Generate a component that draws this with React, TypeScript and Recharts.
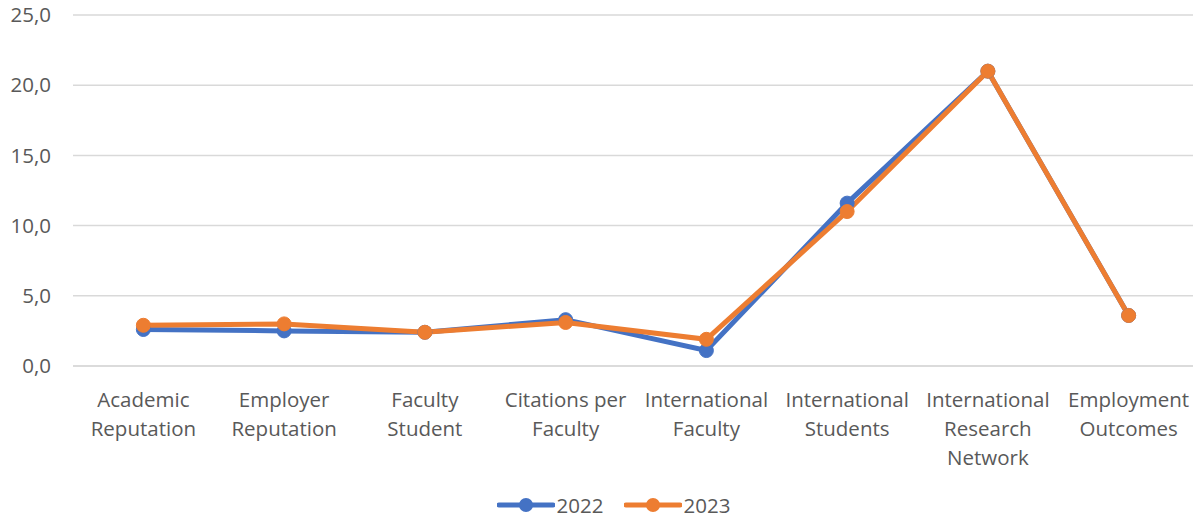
import { LineChart, Line, XAxis, YAxis, CartesianGrid, Legend } from 'recharts'

// category labels, line breaks as in the source chart
const categories = [
  'Academic\nReputation',
  'Employer\nReputation',
  'Faculty\nStudent',
  'Citations per\nFaculty',
  'International\nFaculty',
  'International\nStudents',
  'International\nResearch\nNetwork',
  'Employment\nOutcomes',
]

const values2022 = [2.6, 2.5, 2.4, 3.3, 1.1, 11.6, 21.0, 3.6]
const values2023 = [2.9, 3.0, 2.4, 3.1, 1.9, 11.0, 21.0, 3.6]

const yTicks = [0, 5, 10, 15, 20, 25]

const series = [
  { key: 'y2022', name: '2022', color: '#4472C4', values: values2022 },
  { key: 'y2023', name: '2023', color: '#ED7D31', values: values2023 },
]

const data = categories.map((name, i) => ({
  name,
  y2022: values2022[i],
  y2023: values2023[i],
}))

const FONT = '"Open Sans", sans-serif'
const TEXT = '#595959'

const fmt = (v: number) => v.toFixed(1).replace('.', ',')

function CategoryTick({ x, y, payload }: any) {
  const lines = String(payload.value).split('\n')
  return (
    <text x={x} y={y + 39} textAnchor="middle" fill={TEXT} fontSize={20.5} fontFamily={FONT}>
      {lines.map((l, i) => (
        <tspan key={i} x={x} dy={i === 0 ? 0 : 29}>
          {l}
        </tspan>
      ))}
    </text>
  )
}

function LegendContent() {
  return (
    <div style={{ display: 'flex', justifyContent: 'center', gap: 20, paddingTop: 30, marginLeft: 28 }}>
      {series.map((s) => (
        <div key={s.key} style={{ display: 'flex', alignItems: 'center', height: 28 }}>
          <svg width={58} height={20}>
            <line x1={2} y1={10} x2={56} y2={10} stroke={s.color} strokeWidth={5} strokeLinecap="round" />
            <circle cx={29} cy={10} r={7} fill={s.color} />
          </svg>
          <span style={{ color: TEXT, fontSize: 20.5, lineHeight: '28px', fontFamily: FONT, marginLeft: 2 }}>
            {s.name}
          </span>
        </div>
      ))}
    </div>
  )
}

export default function App() {
  return (
    <div style={{ width: 1193, height: 521, overflow: 'hidden', background: '#fff' }}>
      <style>{'body{margin:0}'}</style>
      <LineChart width={1199} height={521} data={data} margin={{ top: 15, right: 0, bottom: 0, left: 0 }}>
        <CartesianGrid vertical={false} stroke="#D9D9D9" strokeWidth={1.5} />
        <XAxis
          dataKey="name"
          scale="band"
          axisLine={{ stroke: '#D9D9D9', strokeWidth: 1.5 }}
          tickLine={false}
          tickSize={0}
          interval={0}
          height={95}
          tick={<CategoryTick />}
        />
        <YAxis
          domain={[0, 25]}
          ticks={yTicks}
          width={73}
          axisLine={false}
          tickLine={false}
          tickSize={0}
          tickMargin={22}
          tickFormatter={fmt}
          tick={{ fill: TEXT, fontSize: 20.5, fontFamily: FONT }}
        />
        <Legend verticalAlign="bottom" height={60} content={<LegendContent />} />
        {series.map((s) => (
          <Line
            key={s.key}
            dataKey={s.key}
            name={s.name}
            stroke={s.color}
            strokeWidth={5}
            dot={{ r: 7, fill: s.color, stroke: s.color, strokeWidth: 1 }}
            activeDot={false}
            isAnimationActive={false}
          />
        ))}
      </LineChart>
    </div>
  )
}
